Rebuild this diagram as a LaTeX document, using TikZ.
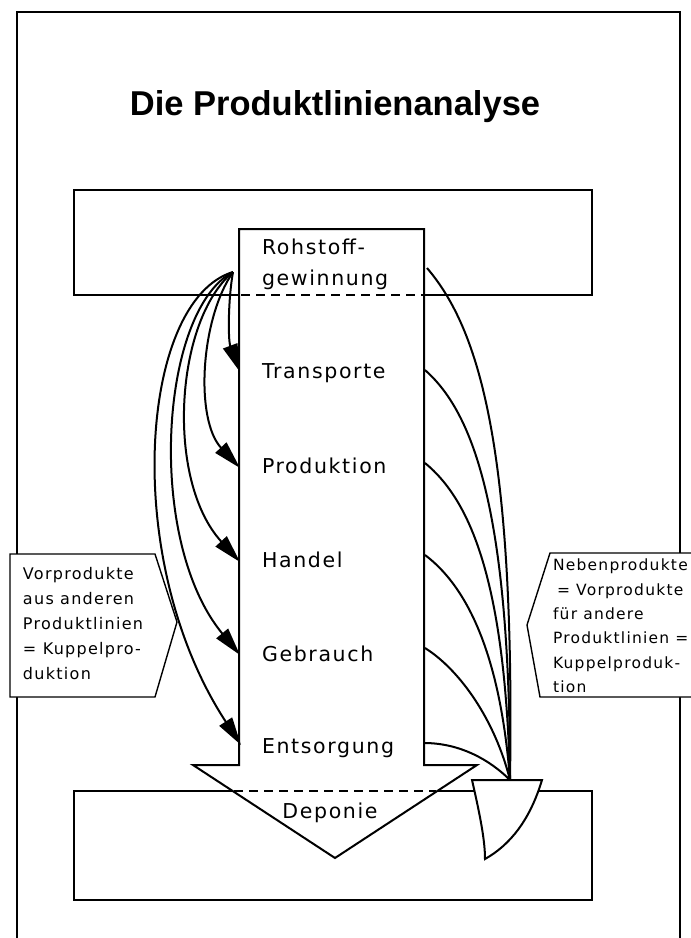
\documentclass[tikz,border=0pt]{standalone}
\usepackage{fontspec}
\usetikzlibrary{arrows.meta}
\newfontfamily\titlefont{Liberation Sans}
\newfontfamily\labelfont[LetterSpace=8]{DejaVu Sans}

\begin{document}
\begin{tikzpicture}[x=1pt,y=-1pt,line width=2pt,>={Triangle[length=28pt,width=15pt]},
    stage/.style={anchor=base west,inner sep=0pt,font=\labelfont\fontsize{20.5}{30.5}\selectfont},
    note/.style={anchor=north west,inner sep=0pt,align=left,font=\labelfont\fontsize{16}{25}\selectfont},
    plate/.style={fill=white,line join=miter}]
    \useasboundingbox (0,0) rectangle (691,938);
    \clip (0,0) rectangle (691,938);

    % frame, upper and lower band
    \draw[line width=1.4pt] (17,945) -- (17,12) -- (680,12) -- (680,945);
    \draw (74,190) rectangle (592,295);
    \draw (74,791) rectangle (592,900);

    % the product line as one big arrow
    \draw[plate] (239,229) -- (424,229) -- (424,765) -- (477,765) -- (335,858) -- (193,765) -- (239,765) -- cycle;
    \draw[dash pattern=on 9pt off 6pt] (241,295) -- (424,295);
    \draw[dash pattern=on 9pt off 6pt] (234,791) -- (436,791);
    \draw[plate] (472,780) .. controls (480,815) and (485,840) .. (485,859)
        .. controls (510,845) and (530,820) .. (542,780) -- cycle;

    \node[font=\titlefont\bfseries\fontsize{34.5}{40}\selectfont,anchor=base] (title) at (335,115) {Die Produktlinienanalyse};
    \node[stage,anchor=north west,align=left] (rohstoff) at (261,238) {Rohstoff-\\gewinnung};
    \node[stage] (transporte) at (261,378) {Transporte};
    \node[stage] (produktion) at (261,473) {Produktion};
    \node[stage] (handel) at (261,567) {Handel};
    \node[stage] (gebrauch) at (261,661) {Gebrauch};
    \node[stage] (entsorgung) at (261,753) {Entsorgung};
    \node[stage,anchor=base] (deponie) at (330,818) {Deponie};

    % inputs from other product lines
    \coordinate (src) at (233,272);
    \coordinate (transporte-in) at (240,372);
    \coordinate (produktion-in) at (240,468);
    \coordinate (handel-in) at (240,562);
    \coordinate (gebrauch-in) at (240,655);
    \coordinate (entsorgung-in) at (241,745);
    \draw[->] (src) .. controls (228,300) and (228,340) .. (transporte-in);
    \draw[->] (src) .. controls (200,320) and (195,420) .. (produktion-in);
    \draw[->] (src) .. controls (175,320) and (165,480) .. (handel-in);
    \draw[->] (src) .. controls (160,310) and (145,540) .. (gebrauch-in);
    \draw[->] (src) .. controls (140,300) and (120,560) .. (entsorgung-in);

    % by-products
    \coordinate (sink) at (510,780);
    \coordinate (rohstoff-out) at (427,268);
    \coordinate (transporte-out) at (425,370);
    \coordinate (produktion-out) at (425,463);
    \coordinate (handel-out) at (425,555);
    \coordinate (gebrauch-out) at (425,648);
    \coordinate (entsorgung-out) at (424,743);
    \draw (rohstoff-out) .. controls (480,330) and (515,450) .. (sink);
    \draw (transporte-out) .. controls (470,410) and (510,500) .. (sink);
    \draw (produktion-out) .. controls (470,500) and (505,580) .. (sink);
    \draw (handel-out) .. controls (465,585) and (500,650) .. (sink);
    \draw (gebrauch-out) .. controls (460,670) and (495,720) .. (sink);
    \draw (entsorgung-out) .. controls (460,743) and (490,760) .. (sink);

    % side notes
    \draw[plate,line width=1.4pt] (10,554) -- (155,554) -- (177,622) -- (155,697) -- (10,697) -- cycle;
    \draw[plate,line width=1.4pt] (550,553) -- (700,553) -- (700,697) -- (540,697) -- (527,625) -- cycle;
    \node[note] (vorprodukte) at (22,566) {Vorprodukte\\aus anderen\\Produktlinien\\= Kuppelpro-\\duktion};
    \node[note,font=\labelfont\fontsize{15.5}{24.4}\selectfont] (nebenprodukte) at (552,558) {Nebenprodukte\\\hspace{4pt}= Vorprodukte\\für andere\\Produktlinien =\\Kuppelproduk-\\tion};
\end{tikzpicture}
\end{document}
